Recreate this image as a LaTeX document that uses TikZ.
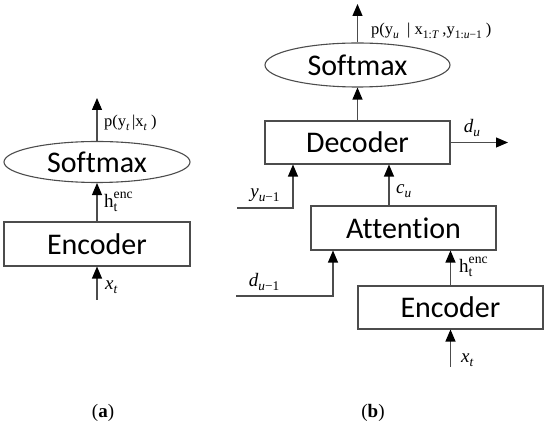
\documentclass[tikz,border=0pt]{standalone}
\usepackage{amsmath}
\usepackage{fontspec}
\setmainfont{Liberation Serif}
\newfontfamily\boxfont[Ligatures=NoCommon]{Carlito}
\usetikzlibrary{arrows.meta,shapes.geometric}
\newcommand\lsub[1]{\raisebox{-0.45ex}{\scalebox{0.7}{#1}}}
\newcommand\henc{h\rlap{\raisebox{-0.5ex}{\scalebox{0.72}{t}}}\raisebox{1.05ex}{\scalebox{0.72}{enc}}}
\begin{document}
\begin{tikzpicture}[x=1pt,y=-1pt,
  line/.style={draw=black!70, line width=1.1pt},
  arr/.style={line, -{Triangle[length=12pt,width=10pt,fill=black,color=black]}},
  blockbox/.style={draw=black!70, line width=1.1pt, minimum width=185pt, minimum height=43pt, inner sep=0pt, font=\boxfont\fontsize{30}{32}\selectfont},
  ellbox/.style={ellipse, draw=black!70, line width=1.1pt, minimum width=186pt, minimum height=41pt, inner sep=0pt, font=\boxfont\fontsize{30}{32}\selectfont},
  lbl/.style={inner sep=0pt, font=\fontsize{19}{21}\selectfont},
  slbl/.style={inner sep=0pt, font=\fontsize{16.5}{18}\selectfont},
  captext/.style={inner sep=0pt, font=\fontsize{19}{21}\selectfont}]
\useasboundingbox (0,0) rectangle (550,427);

% ---- panel (a)
\node[ellbox] (sma) at (97,162) {Softmax};
\node[blockbox, minimum width=186pt, minimum height=44pt] (enca) at (97,244) {Encoder};
\coordinate (xa) at (97,300);
\coordinate (outa) at (97,98);
\draw[arr] (xa) -- (enca.south);
\draw[arr] (enca.north) -- (sma.south);
\draw[arr] (sma.north) -- (outa);
\node[slbl, anchor=west] (pa) at (104,123) {p(y\lsub{\itshape t}\,|x\lsub{\itshape t}\ )};
\node[lbl, anchor=west] (ha) at (104,202) {\henc};
\node[lbl, anchor=west] (xta) at (105,287) {\itshape x\lsub{t}};

% ---- panel (b)
\node[ellbox, minimum width=185pt, minimum height=44pt] (smb) at (357.5,65) {Softmax};
\node[blockbox] (dec) at (357.5,142.5) {Decoder};
\node[blockbox, minimum height=44pt] (att) at (403.5,228) {Attention};
\node[blockbox] (encb) at (450.5,307.5) {Encoder};
\coordinate (outb) at (357.5,4);
\coordinate (du) at (508,142.5);
\coordinate (yin) at (237,208);
\coordinate (ycorner) at (293,208);
\coordinate (din) at (236,296);
\coordinate (dcorner) at (333,296);
\coordinate (xb) at (450.5,367);

\draw[arr] (smb.north) -- (outb);
\draw[arr] (dec.north) -- (smb.south);
\draw[arr] (dec.east) -- (du);
\draw[arr] (yin) -- (ycorner) -- (ycorner |- dec.south);
\draw[arr] (att.north -| 389,0) -- (dec.south -| 389,0);
\draw[arr] (din) -- (dcorner) -- (dcorner |- att.south);
\draw[arr] (encb.north) -- (att.south -| encb.north);
\draw[arr] (xb) -- (encb.south);

\node[slbl, anchor=west] (pb) at (371,31) {p(y\lsub{\itshape u}\ \ |\ x\lsub{1:\itshape T}\ ,y\lsub{1:\itshape u\upshape−1}\ )};
\node[lbl] (dul) at (472,128) {\itshape d\lsub{u}};
\node[lbl] (yl) at (265,195) {\itshape y\lsub{u\upshape −1}};
\node[lbl, anchor=west] (cl) at (396,191) {\itshape c\lsub{u}};
\node[lbl] (dl) at (264,282) {\itshape d\lsub{u\upshape −1}};
\node[lbl, anchor=west] (hb) at (459,267) {\henc};
\node[lbl, anchor=west] (xtb) at (461,360) {\itshape x\lsub{t}};

% ---- captions
\node[captext] (capa) at (103,413) {(\textbf{a})};
\node[captext] (capb) at (373,413) {(\textbf{b})};
\end{tikzpicture}
\end{document}
